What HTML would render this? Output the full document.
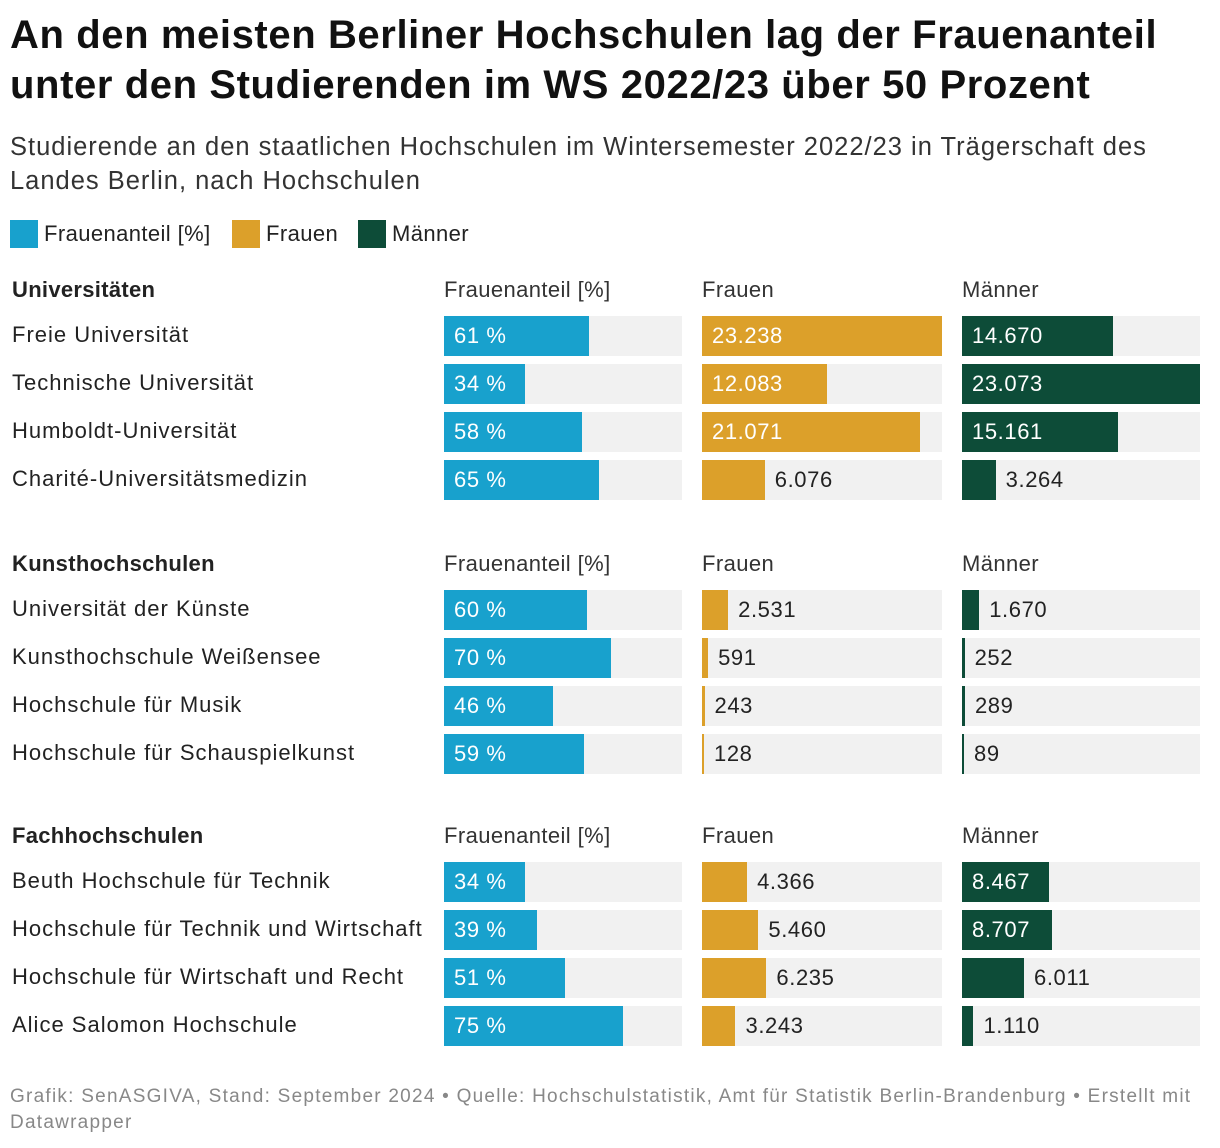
<!DOCTYPE html>
<html><head><meta charset="utf-8"><style>
body{margin:0;width:1220px;height:1148px;background:#fff;font-family:"Liberation Sans",sans-serif;color:#222;position:relative;overflow:hidden}
.a{position:absolute;white-space:nowrap}
h1{position:absolute;left:10px;top:10px;margin:0;font-size:40px;line-height:50px;font-weight:bold;color:#111;letter-spacing:0.6px}
.sub{left:10px;top:130px;font-size:25.5px;line-height:34px;color:#333;white-space:normal;width:1205px;letter-spacing:1px}
.lg{top:220px;font-size:22px;line-height:28px;letter-spacing:0.4px}
.sw{display:inline-block;width:28px;height:28px;vertical-align:top;margin-right:6px}
.foot{left:10px;top:1084px;font-size:19px;line-height:26px;color:#888;white-space:normal;width:1205px;letter-spacing:1.25px}
</style></head><body>
<h1>An den meisten Berliner Hochschulen lag der Frauenanteil<br>unter den Studierenden im WS 2022/23 über 50 Prozent</h1>
<div class="a sub">Studierende an den staatlichen Hochschulen im Wintersemester 2022/23 in Trägerschaft des<br>Landes Berlin, nach Hochschulen</div>
<div class="a lg" style="left:10px"><span class="sw" style="background:#18a1cd"></span>Frauenanteil [%]</div>
<div class="a lg" style="left:232px"><span class="sw" style="background:#dca02a"></span>Frauen</div>
<div class="a lg" style="left:358px"><span class="sw" style="background:#0d4c38"></span>Männer</div>
<div id="chart"></div>
<div class="a foot">Grafik: SenASGIVA, Stand: September 2024 • Quelle: Hochschulstatistik, Amt für Statistik Berlin-Brandenburg • Erstellt mit<br>Datawrapper</div>
<script>
const sections=["Universitäten","Kunsthochschulen","Fachhochschulen"];
const names=[["Freie Universität","Technische Universität","Humboldt-Universität","Charité-Universitätsmedizin"],["Universität der Künste","Kunsthochschule Weißensee","Hochschule für Musik","Hochschule für Schauspielkunst"],["Beuth Hochschule für Technik","Hochschule für Technik und Wirtschaft","Hochschule für Wirtschaft und Recht","Alice Salomon Hochschule"]];
const pct=[[61,34,58,65],[60,70,46,59],[34,39,51,75]];
const frauen=[[23238,12083,21071,6076],[2531,591,243,128],[4366,5460,6235,3243]];
const maenner=[[14670,23073,15161,3264],[1670,252,289,89],[8467,8707,6011,1110]];
const c=document.getElementById('chart');
const secTop=[290,564,836];
const cols=[{x:444,w:238,col:'#18a1cd',title:'Frauenanteil [%]'},{x:702,w:240,col:'#dca02a',title:'Frauen'},{x:962,w:238,col:'#0d4c38',title:'Männer'}];
const maxF=Math.max(...frauen.flat()),maxM=Math.max(...maenner.flat());
function fmt(v){return v.toString().replace(/\B(?=(\d{3})+(?!\d))/g,'.');}
function div(css,txt){const d=document.createElement('div');d.className='a';d.style.cssText=css;if(txt!==undefined)d.textContent=txt;c.appendChild(d);return d;}
sections.forEach((s,si)=>{
  const y0=secTop[si];
  const h=div(`left:12px;top:${y0-13}px;font-size:22px;font-weight:bold;line-height:26px;letter-spacing:0.3px`,s);
  
  cols.forEach(cl=>{const t=div(`left:${cl.x}px;top:${y0-13}px;font-size:22px;line-height:26px;color:#333;letter-spacing:0.4px`,cl.title);
    });
  names[si].forEach((n,ri)=>{
    const top=y0+26+ri*48;
    const l=div(`left:12px;top:${top+6}px;font-size:22px;line-height:26px;color:#222;letter-spacing:1px`,n);
    
    const vals=[pct[si][ri]/100,frauen[si][ri]/maxF,maenner[si][ri]/maxM];
    const txt=[pct[si][ri]+' %',fmt(frauen[si][ri]),fmt(maenner[si][ri])];
    cols.forEach((cl,ci)=>{
      const bg=div(`left:${cl.x}px;top:${top}px;width:${cl.w}px;height:40px;background:#f1f1f1`);
      
      const w=Math.max(2,vals[ci]*cl.w);
      const b=div(`left:${cl.x}px;top:${top}px;width:${w}px;height:40px;background:${cl.col}`);
      
      const inside=w>80;
      const t=div(`left:${inside?cl.x+10:cl.x+w+10}px;top:${top+7}px;font-size:22px;line-height:26px;letter-spacing:0.6px;color:${inside?'#fff':'#222'}`,txt[ci]);
      
    });
  });
});
</script>
</body></html>
